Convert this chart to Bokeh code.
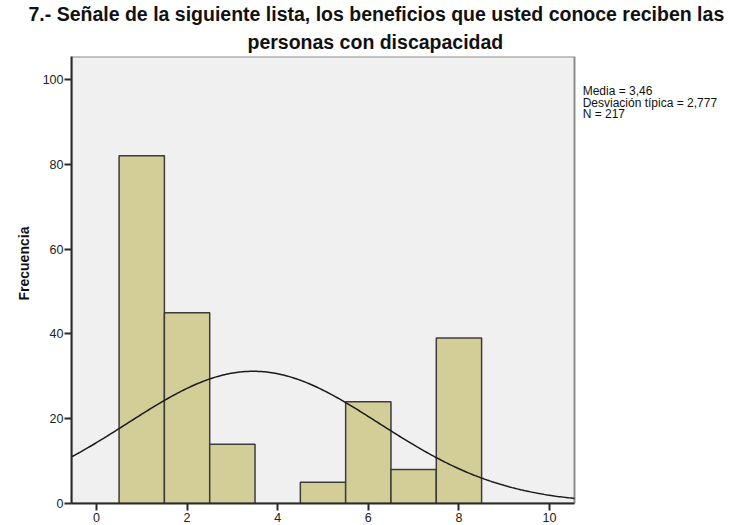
import numpy as np
from bokeh.plotting import figure
from bokeh.models import Range1d, Label, FixedTicker, ColumnDataSource, BoxAnnotation, Title
from bokeh.embed import file_html
from bokeh.resources import INLINE

# Data
values = [1, 2, 3, 5, 6, 7, 8]
counts = [82, 45, 14, 5, 24, 8, 39]
mean = 3.46
sd = 2.777
n = 217
x_ticks = [0, 2, 4, 6, 8, 10]
y_ticks = [0, 20, 40, 60, 80, 100]
title_line1 = "7.- Señale de la siguiente lista, los beneficios que usted conoce reciben las"
title_line2 = "personas con discapacidad"
stats_text = "Media = 3,46\nDesviación típica = 2,777\nN = 217"
y_label = "Frecuencia"

# Plot-area extent (axis ranges of the histogram box)
x_lo, x_hi = -0.55, 10.55
y_lo, y_hi = 0.0, 105.4

FONT = "Liberation Sans"

box_px_w = 503.0
W, H = 734, 524
left_b, bottom_b, top_b = 71, 21, 56
frame_w = W - left_b
x_end = x_lo + frame_w * (x_hi - x_lo) / box_px_w

p = figure(width=W, height=H, output_backend="svg", toolbar_location=None,
           x_range=Range1d(x_lo, x_end), y_range=Range1d(y_lo, y_hi),
           min_border_left=left_b, min_border_right=0, min_border_top=top_b,
           min_border_bottom=bottom_b)
p.title.visible = False
p.background_fill_color = "white"
p.border_fill_color = "white"
p.outline_line_color = None
p.grid.visible = False

p.add_layout(BoxAnnotation(left=x_lo, right=x_hi, bottom=y_lo, top=y_hi,
                           fill_color="#F0F0F0", fill_alpha=1.0,
                           line_color="#8C8C8C", line_width=2, line_alpha=1.0,
                           level="underlay"))

src = ColumnDataSource(dict(left=[v - 0.5 for v in values],
                            right=[v + 0.5 for v in values],
                            top=counts, bottom=[0] * len(values)))
p.quad(left="left", right="right", top="top", bottom="bottom", source=src,
       fill_color="#D3CE97", line_color="#3C3C3C", line_width=1.5)

xs = np.linspace(x_lo, x_hi, 300)
ys = n * 1.0 / (sd * np.sqrt(2 * np.pi)) * np.exp(-0.5 * ((xs - mean) / sd) ** 2)
p.line(xs, ys, line_color="#1A1A1A", line_width=1.5)

for ax in (p.xaxis[0], p.yaxis[0]):
    ax.axis_line_color = "#2A2A2A"
    ax.axis_line_width = 2
    ax.major_tick_line_color = "#2A2A2A"
    ax.major_tick_line_width = 2
    ax.major_tick_out = 7
    ax.major_tick_in = 0
    ax.minor_tick_line_color = None
    ax.major_label_text_font = FONT
    ax.major_label_text_font_size = "12.5px"
    ax.major_label_text_color = "#222222"

p.xaxis.bounds = (x_lo, x_hi)
p.yaxis.bounds = (y_lo, y_hi)
p.xaxis.ticker = FixedTicker(ticks=x_ticks)
p.yaxis.ticker = FixedTicker(ticks=y_ticks)
p.xaxis.major_label_standoff = 2
p.yaxis.major_label_standoff = 1

p.add_layout(Title(text=y_label, align="left", offset=203, vertical_align="top",
                   text_font=FONT, text_font_style="bold",
                   text_font_size="14px", text_color="#111111",
                   standoff=12), "left")

# title lines (line 2 is closest to the plot)
p.add_layout(Title(text=title_line2, align="left", offset=176,
                   text_font=FONT, text_font_style="bold",
                   text_font_size="19.5px", text_color="#111111",
                   standoff=8), "above")
p.add_layout(Title(text=title_line1, align="left", offset=-43,
                   text_font=FONT, text_font_style="bold",
                   text_font_size="19.5px", text_color="#111111",
                   standoff=0), "above")

p.add_layout(Label(x=10.73, y=98.9, text=stats_text, text_align="left",
                   text_baseline="top", text_font=FONT,
                   text_font_size="12px", text_color="#111111",
                   text_line_height=0.82))

open("out.html", "w").write(file_html(p, INLINE))
